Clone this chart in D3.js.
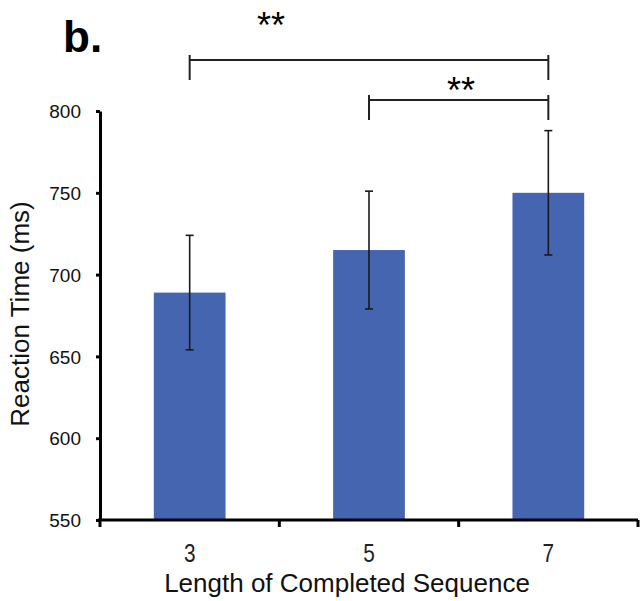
<!DOCTYPE html>
<html>
<head>
<meta charset="utf-8">
<script src="https://cdn.jsdelivr.net/npm/d3@7"></script>
<style>
  body { margin: 0; background: #fff; }
  svg { display: block; font-family: "Liberation Sans", Arial, sans-serif; }
</style>
</head>
<body>
<div id="chart-container"></div>
<script>
// chart data
const categories = ["3", "5", "7"];
const means = [689, 715, 750];
const errors = [35, 36, 38];
const yTicks = [550, 600, 650, 700, 750, 800];
// significance brackets: [from, to]
const brackets = [["3", "7"], ["5", "7"]];
const bracketLabels = ["**", "**"];

const W = 640, H = 601;
const margin = { top: 111, right: 2, bottom: 81, left: 100 };

const svg = d3.select("#chart-container")
  .append("svg")
  .attr("width", W)
  .attr("height", H);

// scales
const x = d3.scaleBand()
  .domain(categories)
  .range([margin.left, W - margin.right])
  .paddingInner(0.6)
  .paddingOuter(0.3);

const y = d3.scaleLinear()
  .domain([550, 800])
  .range([H - margin.bottom, margin.top]);

const barColor = "#4565b0";

// bars
svg.selectAll("rect.bar")
  .data(categories)
  .join("rect")
  .attr("class", "bar")
  .attr("x", d => x(d))
  .attr("width", x.bandwidth())
  .attr("y", (d, i) => y(means[i]))
  .attr("height", (d, i) => y(550) - y(means[i]))
  .attr("fill", barColor);

// error bars
const eb = svg.append("g").attr("stroke", "#1a1a1a").attr("stroke-width", 1.6);
categories.forEach((c, i) => {
  const cx = x(c) + x.bandwidth() / 2;
  const top = y(means[i] + errors[i]);
  const bot = y(means[i] - errors[i]);
  eb.append("line").attr("x1", cx).attr("x2", cx).attr("y1", top).attr("y2", bot);
  eb.append("line").attr("x1", cx - 4).attr("x2", cx + 4).attr("y1", top).attr("y2", top);
  eb.append("line").attr("x1", cx - 4).attr("x2", cx + 4).attr("y1", bot).attr("y2", bot);
});

// y axis
svg.append("g")
  .attr("transform", `translate(${margin.left},0)`)
  .call(d3.axisLeft(y).tickValues(yTicks).tickSize(4).tickPadding(15).tickSizeOuter(0))
  .call(g => g.selectAll("line, path").attr("stroke", "#000").attr("stroke-width", 3))
  .call(g => g.selectAll(".tick text")
    .attr("fill", "#111")
    .attr("dy", "0.35em")
    .style("font-size", "19px")
    .style("font-family", "Liberation Sans, Arial, sans-serif"));

// x axis (ticks at band boundaries)
const xBase = y(550);
const step = x.step();
const bounds = [x(categories[0]) + x.bandwidth() / 2 - step / 2]
  .concat(categories.map(c => x(c) + x.bandwidth() / 2 + step / 2));

svg.append("line")
  .attr("x1", margin.left - 2).attr("x2", W - margin.right)
  .attr("y1", xBase).attr("y2", xBase)
  .attr("stroke", "#000").attr("stroke-width", 3);

svg.selectAll("line.xtick")
  .data(bounds)
  .join("line")
  .attr("class", "xtick")
  .attr("x1", d => Math.min(d, W - 1.5)).attr("x2", d => Math.min(d, W - 1.5))
  .attr("y1", xBase).attr("y2", xBase + 7)
  .attr("stroke", "#000").attr("stroke-width", 3);

svg.selectAll("text.xlabel")
  .data(categories)
  .join("text")
  .attr("class", "xlabel")
  .attr("transform", d => `translate(${x(d) + x.bandwidth() / 2},${xBase + 42}) scale(0.8,1)`)
  .attr("text-anchor", "middle")
  .style("font-size", "26px")
  .attr("fill", "#222")
  .text(d => d);

// axis titles
svg.append("text")
  .attr("x", 347)
  .attr("y", 592)
  .attr("text-anchor", "middle")
  .style("font-size", "26px")
  .attr("fill", "#111")
  .text("Length of Completed Sequence");

svg.append("text")
  .attr("transform", "translate(29, 314) rotate(-90)")
  .attr("text-anchor", "middle")
  .style("font-size", "26px")
  .attr("fill", "#111")
  .text("Reaction Time (ms)");

// panel letter
svg.append("text")
  .attr("x", 63)
  .attr("y", 52)
  .style("font-size", "44px")
  .style("font-weight", "bold")
  .attr("fill", "#000")
  .text("b.");

// significance brackets
const bracketY = [60, 100];
const labelPos = [{ x: 271, y: 38 }, { x: 461, y: 103 }];
brackets.forEach((b, i) => {
  const x1 = x(b[0]) + x.bandwidth() / 2;
  const x2 = x(b[1]) + x.bandwidth() / 2;
  const by = bracketY[i];
  const g = svg.append("g").attr("stroke", "#222").attr("stroke-width", 2);
  g.append("line").attr("x1", x1).attr("x2", x2).attr("y1", by).attr("y2", by);
  g.append("line").attr("x1", x1).attr("x2", x1).attr("y1", by - 5).attr("y2", by + 20);
  g.append("line").attr("x1", x2).attr("x2", x2).attr("y1", by - 5).attr("y2", by + 20);
  svg.append("text")
    .attr("x", labelPos[i].x)
    .attr("y", labelPos[i].y)
    .attr("text-anchor", "middle")
    .style("font-size", "36px")
    .attr("fill", "#000")
    .text(bracketLabels[i]);
});
</script>
</body>
</html>
